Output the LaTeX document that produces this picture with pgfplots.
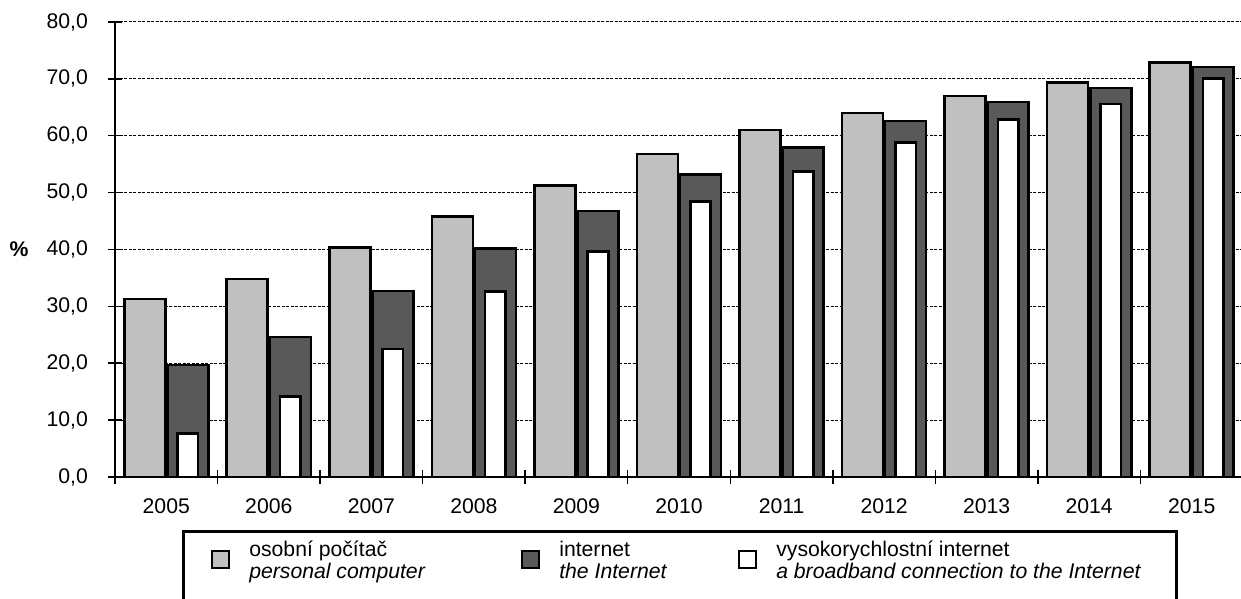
\documentclass[border=0pt]{standalone}
\usepackage{fontspec}
\setmainfont{Liberation Sans}
\usepackage{pgfplots}
\usepackage{pgfplotstable}
\pgfplotsset{compat=1.18}

\definecolor{pcgray}{RGB}{192,192,192}
\definecolor{netgray}{RGB}{89,89,89}

% podil domacnosti s PC / internetem / vysokorychlostnim internetem (%)
\pgfplotstableread{
x  pc    net   bb
0  31.3  19.7  7.6
1  34.8  24.6  14.1
2  40.4  32.7  22.5
3  45.8  40.2  32.6
4  51.2  46.8  39.6
5  56.8  53.2  48.4
6  61.0  57.9  53.7
7  64.0  62.6  58.8
8  67.0  65.9  62.9
9  69.4  68.4  65.6
10 72.9  72.1  70.1
}\hhdata

\newcommand{\lblfont}{\fontsize{10.6}{11}\selectfont}

\begin{document}
\begin{tikzpicture}
\begin{axis}[
    scale only axis,
    width=564pt, height=227.5pt,
    xmin=-0.5, xmax=10.5,
    ymin=0, ymax=80,
    axis x line*=bottom, axis y line*=left,
    axis line style={line width=0.75pt, -},
    xtick={-0.5,0.5,...,10.5},
    xticklabels={2005,2006,2007,2008,2009,2010,2011,2012,2013,2014,2015,{}},
    xticklabel style={xshift=25.64pt, yshift=-4pt},
    ytick={0,10,...,80},
    tick align=center,
    major tick length=7pt,
    tick style={black, line width=0.75pt},
    ymajorgrids,
    major grid style={black, line width=0.5pt, dash pattern=on 1.5pt off 0.75pt},
    tick label style={font=\lblfont},
    yticklabel style={xshift=-6.5pt, /pgf/number format/.cd, fixed, fixed zerofill, precision=1, use comma},
    /pgf/number format/assume math mode=true,
    legend columns=3,
    legend cell align=left,
    legend style={at={(0,0)}, anchor=north west, xshift=33.5pt, yshift=-26.5pt,
        draw=black, line width=1.3pt, inner xsep=0pt, inner ysep=5pt,
        column sep=0pt, font=\lblfont, cells={anchor=base west},
        nodes={inner sep=0pt, text depth=, text height=}},
]
\addplot[ybar, bar width=0.40, bar shift=-0.21, fill=pcgray, draw=black, line width=1.3pt,
    legend image code/.code={\path[draw=none, fill=none] (0pt,0pt) -- (33pt,0pt);
        \draw[fill=pcgray, draw=black, line width=1pt] (14.5pt,-5.35pt) rectangle (23pt,3.15pt);}]
    table[x=x, y=pc] {\hhdata};
\addlegendentry{\parbox[t]{122pt}{\strut osobní počítač\\\strut\textit{personal computer}}}
\addplot[ybar, bar width=0.40, bar shift=0.21, fill=netgray, draw=black, line width=1.3pt,
    legend image code/.code={\path[draw=none, fill=none] (0pt,0pt) -- (33pt,0pt);
        \draw[fill=netgray, draw=black, line width=1pt] (14.5pt,-5.35pt) rectangle (23pt,3.15pt);}]
    table[x=x, y=net] {\hhdata};
\addlegendentry{\parbox[t]{75.5pt}{\strut internet\\\strut\textit{the Internet}}}
\addplot[ybar, bar width=0.20, bar shift=0.21, fill=white, draw=black, line width=1.3pt,
    legend image code/.code={\path[draw=none, fill=none] (0pt,0pt) -- (33pt,0pt);
        \draw[fill=white, draw=black, line width=1pt] (14.5pt,-5.35pt) rectangle (23pt,3.15pt);}]
    table[x=x, y=bb] {\hhdata};
\addlegendentry{\parbox[t]{200pt}{\strut vysokorychlostní internet\\\strut\textit{a broadband connection to the Internet}\rule[-8pt]{0pt}{8pt}}}

\coordinate (bl) at (rel axis cs:0,0);
\coordinate (ml) at (rel axis cs:0,0.5);
\coordinate (tr) at (rel axis cs:1,1);
\end{axis}
\node[font=\bfseries\lblfont, anchor=center] at ([xshift=-48pt]ml) {\%};
\pgfresetboundingbox
\path[use as bounding box] ([shift={(-57.5pt,-61pt)}]bl) rectangle ([shift={(-1pt,11pt)}]tr);
\end{tikzpicture}
\end{document}
